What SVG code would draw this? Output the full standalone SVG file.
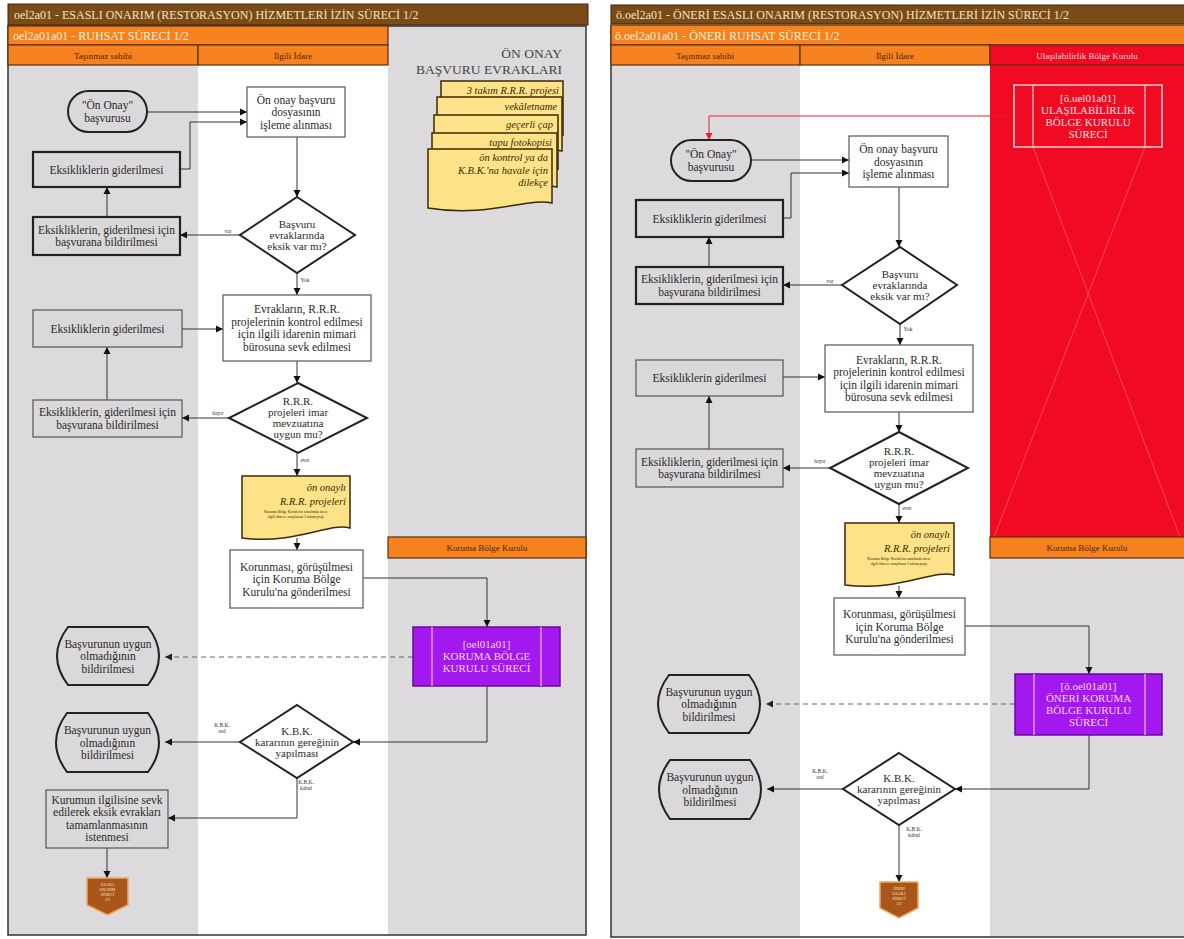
<svg xmlns="http://www.w3.org/2000/svg" width="1184" height="939" viewBox="0 0 1184 939" font-family="'Liberation Serif', 'DejaVu Serif', serif">
<defs>
<marker id="ar" markerUnits="userSpaceOnUse" markerWidth="8" markerHeight="8" refX="7" refY="4" orient="auto"><path d="M0,0.5 L7,4 L0,7.5 Z" fill="#111"/></marker>
<marker id="arR" markerUnits="userSpaceOnUse" markerWidth="8" markerHeight="8" refX="7" refY="4" orient="auto"><path d="M0,0.5 L7,4 L0,7.5 Z" fill="#e8202a"/></marker>
<marker id="arG" markerUnits="userSpaceOnUse" markerWidth="8" markerHeight="8" refX="7" refY="4" orient="auto"><path d="M0,0.5 L7,4 L0,7.5 Z" fill="#222"/></marker>
</defs>
<style>
text, tspan{font-family:'Liberation Serif', 'DejaVu Serif', serif;}
.t{font-size:11.5px;fill:#2a2a2a;text-anchor:middle;}
.td{font-size:11px;fill:#2a2a2a;text-anchor:middle;}
.ttl{font-size:12px;fill:#f3e3c3;}
.sub{font-size:12px;fill:#fff0dc;}
.hd{font-size:9px;fill:#4a2708;text-anchor:middle;}
.lbl{font-size:5.5px;fill:#333;text-anchor:middle;}
.boxw{fill:#fff;stroke:#555;stroke-width:1.2;}
.boxg{fill:#dad8da;stroke:#555;stroke-width:1.2;}
.boxgt{fill:#dad8da;stroke:#222;stroke-width:2.2;}
.dia{fill:#fff;stroke:#222;stroke-width:2;}
.term{fill:#dad8da;stroke:#222;stroke-width:2;}
.doc{fill:#fde28a;stroke:#3a2a00;stroke-width:1.5;}
.dtx{font-size:10.5px;fill:#3a2a00;font-style:italic;text-anchor:end;}
.mag{fill:#a318ee;stroke:#6a0a9a;stroke-width:1.5;}
.magl{stroke:#f4b8ff;stroke-width:1.2;}
.mtx{font-size:11px;fill:#f8d4ff;text-anchor:middle;}
.off{fill:#a8561a;stroke:#f0a860;stroke-width:1.5;}
.otx{font-size:3.8px;fill:#fbe6c8;text-anchor:middle;}
.c{fill:none;stroke:#333;stroke-width:1;marker-end:url(#ar);}
.cd{fill:none;stroke:#666;stroke-width:1.2;stroke-dasharray:5,4;marker-end:url(#arG);}
.orange{fill:#f5821f;stroke:#5a3010;stroke-width:1.2;}
.brown{fill:#7b4b17;stroke:#3a2410;stroke-width:1;}
.lane{fill:#dcdadc;}
</style>

<g id="left-panel">
<rect x="0" y="0" width="1184" height="939" fill="#fff"/>
<rect class="lane" x="8" y="65" width="190" height="870"/>
<rect x="198" y="65" width="190" height="870" fill="#fff"/>
<rect class="lane" x="388" y="26" width="198" height="909"/>
<rect x="8" y="26" width="578" height="909" fill="none" stroke="#333" stroke-width="1.5"/>
<rect class="brown" x="8" y="4" width="580" height="21"/>
<text class="ttl" x="14" y="19">oel2a01 - ESASLI ONARIM (RESTORASYON) HİZMETLERİ İZİN SÜRECİ 1/2</text>
<rect class="orange" x="8" y="26" width="380" height="19"/>
<text class="sub" x="13" y="40">oel2a01a01 - RUHSAT SÜRECİ 1/2</text>
<rect class="orange" x="8" y="45" width="190" height="20"/>
<rect class="orange" x="198" y="45" width="190" height="20"/>
<text class="hd" x="103" y="58.5">Taşınmaz sahibi</text>
<text class="hd" x="293" y="58.5">İlgili İdare</text>
<text x="562" y="58" font-size="13.5" fill="#444" text-anchor="end">ÖN ONAY</text>
<text x="562" y="74" font-size="13.5" fill="#444" text-anchor="end">BAŞVURU EVRAKLARI</text>
<rect class="orange" x="388" y="537" width="198" height="21"/>
<text class="hd" x="487" y="550.5">Koruma Bölge Kurulu</text>
</g>

<g id="right-panel">
<rect class="lane" x="611" y="65" width="189" height="872"/>
<rect x="800" y="65" width="190" height="872" fill="#fff"/>
<rect x="990" y="65" width="194" height="472" fill="#f00a22"/>
<rect class="lane" x="990" y="558" width="194" height="379"/>
<path d="M611,25 V937 H1184" fill="none" stroke="#333" stroke-width="1.5"/>
<rect class="brown" x="611" y="5" width="575" height="19"/>
<text class="ttl" x="616" y="18.5">ö.oel2a01 - ÖNERİ ESASLI ONARIM (RESTORASYON) HİZMETLERİ İZİN SÜRECİ 1/2</text>
<rect class="orange" x="611" y="25" width="575" height="20"/>
<text class="sub" x="615" y="39.5">ö.oel2a01a01 - ÖNERİ RUHSAT SÜRECİ 1/2</text>
<rect class="orange" x="611" y="45" width="189" height="20"/>
<rect class="orange" x="800" y="45" width="190" height="20"/>
<rect x="990" y="45" width="196" height="20" fill="#f00a22" stroke="#5a3010" stroke-width="1.2"/>
<text class="hd" x="705" y="58.5">Taşınmaz sahibi</text>
<text class="hd" x="895" y="58.5">İlgili İdare</text>
<text class="hd" x="1087" y="58.5" style="fill:#ffd8de">Ulaşılabilirlik Bölge Kurulu</text>
<line x1="1033" y1="147" x2="1180" y2="537" stroke="#ff5868" stroke-width="0.8"/>
<line x1="1145" y1="147" x2="994" y2="537" stroke="#ff5868" stroke-width="0.8"/>
<rect class="orange" x="990" y="537" width="196" height="21"/>
<text class="hd" x="1087" y="550.5">Koruma Bölge Kurulu</text>
</g>

<g id="n-evrak">
<path class="doc" d="M441,81 H563 V135 C540,129 500,150 441,143 Z"/>
<path class="doc" d="M437,97 H562 V151 C539,145 499,166 437,159 Z"/>
<path class="doc" d="M434,115 H558 V169 C535,163 495,184 434,177 Z"/>
<path class="doc" d="M432,133 H557 V187 C534,181 494,202 432,195 Z"/>
<path class="doc" d="M428,149 H552 V203 C529,197 488,218 428,208 Z"/>
<text class="dtx" x="559" y="93.5">3 takım R.R.R. projesi</text>
<text class="dtx" x="557" y="110">vekâletname</text>
<text class="dtx" x="553" y="128">geçerli çap</text>
<text class="dtx" x="552" y="146">tapu fotokopisi</text>
<text class="dtx" x="548" y="161">ön kontrol ya da</text>
<text class="dtx" x="548" y="173.5">K.B.K.'na havale için</text>
<text class="dtx" x="548" y="186">dilekçe</text>
</g>

<g id="connectors">
<path class="c" d="M147,112 H247"/>
<path class="c" d="M180,169 H190 V122 H247"/>
<path class="c" d="M297,137 V197"/>
<path class="c" d="M240,235 H180"/>
<path class="c" d="M107,217 V187"/>
<path class="c" d="M297,273 V295"/>
<path class="c" d="M182,329 H223"/>
<path class="c" d="M297,361 V383"/>
<path class="c" d="M229,418 H182"/>
<path class="c" d="M107,400 V347"/>
<path class="c" d="M297,453 V476"/>
<path class="c" d="M297,538 V550"/>
<path class="c" d="M363,578 H487 V627"/>
<path class="cd" d="M413,657 H165"/>
<path class="c" d="M487,686 V742 H353"/>
<path class="c" d="M240,742 H165"/>
<path class="c" d="M297,778 V818 H168"/>
<path class="c" d="M107,848 V878"/>
<text class="lbl" x="228" y="233">var</text>
<text class="lbl" x="305" y="282">Yok</text>
<text class="lbl" x="218" y="415">hayır</text>
<text class="lbl" x="305" y="462">evet</text>
<text class="lbl" x="222" y="727">K.B.K.</text>
<text class="lbl" x="222" y="733">red</text>
<text class="lbl" x="306" y="784">K.B.K.</text>
<text class="lbl" x="306" y="790">kabul</text>

<path fill="none" stroke="#e8202a" stroke-width="1" marker-end="url(#arR)" d="M1014,116 H709 V140"/>
<path class="c" d="M751,160 H849"/>
<path class="c" d="M783,218 H791 V173 H849"/>
<path class="c" d="M899,187 V247"/>
<path class="c" d="M842,285 H783"/>
<path class="c" d="M709,267 V237"/>
<path class="c" d="M900,324 V345"/>
<path class="c" d="M783,377 H825"/>
<path class="c" d="M899,412 V432"/>
<path class="c" d="M830,468 H783"/>
<path class="c" d="M709,449 V396"/>
<path class="c" d="M899,504 V523"/>
<path class="c" d="M899,586 V598"/>
<path class="c" d="M965,626 H1089 V674"/>
<path class="cd" d="M1015,704 H766"/>
<path class="c" d="M1089,735 V789 H955"/>
<path class="c" d="M843,789 H767"/>
<path class="c" d="M899,825 V882"/>
<text class="lbl" x="830" y="283">var</text>
<text class="lbl" x="908" y="331">Yok</text>
<text class="lbl" x="820" y="463">hayır</text>
<text class="lbl" x="907" y="510">evet</text>
<text class="lbl" x="820" y="773">K.B.K.</text>
<text class="lbl" x="820" y="779">red</text>
<text class="lbl" x="914" y="831">K.B.K.</text>
<text class="lbl" x="914" y="837">kabul</text>
</g>

<g id="n-onay"><rect class="term" x="68" y="91" width="79" height="41" rx="20.5"/><text class="t"><tspan x="107.5" y="109.25">"Ön Onay"</tspan><tspan x="107.5" y="121.75">başvurusu</tspan></text></g>
<g id="n-isleme"><rect class="boxw" x="247" y="87" width="98" height="50"/><text class="t"><tspan x="296" y="103.5">Ön onay başvuru</tspan><tspan x="296" y="116">dosyasının</tspan><tspan x="296" y="128.5">işleme alınması</tspan></text></g>
<g id="n-gid1"><rect class="boxgt" x="33" y="152" width="147" height="35"/><text class="t" x="106.5" y="173.5">Eksikliklerin giderilmesi</text></g>
<g id="n-d1"><polygon class="dia" points="297,197 355,235 297,273 240,235"/><text class="td"><tspan x="297" y="227.8">Başvuru</tspan><tspan x="297" y="238.8">evraklarında</tspan><tspan x="297" y="249.8">eksik var mı?</tspan></text></g>
<g id="n-bild1"><rect class="boxgt" x="33" y="217" width="147" height="38"/><text class="t"><tspan x="106.5" y="233.75">Eksikliklerin, giderilmesi için</tspan><tspan x="106.5" y="246.25">başvurana bildirilmesi</tspan></text></g>
<g id="n-sevk"><rect class="boxw" x="223" y="295" width="148" height="66"/><text class="t"><tspan x="297" y="313.25">Evrakların, R.R.R.</tspan><tspan x="297" y="325.75">projelerinin kontrol edilmesi</tspan><tspan x="297" y="338.25">için ilgili idarenin mimari</tspan><tspan x="297" y="350.75">bürosuna sevk edilmesi</tspan></text></g>
<g id="n-gid2"><rect class="boxg" x="33" y="310" width="149" height="37"/><text class="t" x="107.5" y="332.5">Eksikliklerin giderilmesi</text></g>
<g id="n-d2"><polygon class="dia" points="298,383 367,418 298,453 229,418"/><text class="td"><tspan x="298" y="405.3">R.R.R.</tspan><tspan x="298" y="416.3">projeleri imar</tspan><tspan x="298" y="427.3">mevzuatına</tspan><tspan x="298" y="438.3">uygun mu?</tspan></text></g>
<g id="n-bild2"><rect class="boxg" x="33" y="400" width="149" height="37"/><text class="t"><tspan x="107.5" y="416.25">Eksikliklerin, giderilmesi için</tspan><tspan x="107.5" y="428.75">başvurana bildirilmesi</tspan></text></g>
<g id="n-onayli"><path class="doc" d="M242,476 H350 V528 C330,522 295,545 242,538 Z"/><text class="dtx" x="346" y="491">ön onaylı</text><text class="dtx" x="346" y="505">R.R.R. projeleri</text><text x="296" y="513" font-size="3.8" fill="#3a2a00" text-anchor="middle">Koruma Bölge Kurulu'na sunulmak üzere</text><text x="296" y="518" font-size="3.8" fill="#3a2a00" text-anchor="middle">ilgili idarece onaylanan 2 takım proje</text></g>
<g id="n-korunma"><rect class="boxw" x="230" y="550" width="133" height="58"/><text class="t"><tspan x="296.5" y="570.5">Korunması, görüşülmesi</tspan><tspan x="296.5" y="583">için Koruma Bölge</tspan><tspan x="296.5" y="595.5">Kurulu'na gönderilmesi</tspan></text></g>
<g id="n-kbk"><rect class="mag" x="413" y="627" width="147" height="59"/><line class="magl" x1="432" y1="627" x2="432" y2="686"/><line class="magl" x1="541" y1="627" x2="541" y2="686"/><text class="mtx"><tspan x="486.5" y="648.3">[oel01a01]</tspan><tspan x="486.5" y="660.3">KORUMA BÖLGE</tspan><tspan x="486.5" y="672.3">KURULU SÜRECİ</tspan></text></g>
<g id="n-uygun1"><path class="term" d="M68,627 H148 Q170,656 148,685 H68 Q46,656 68,627 Z"/><text class="t"><tspan x="108" y="647.5">Başvurunun uygun</tspan><tspan x="108" y="660">olmadığının</tspan><tspan x="108" y="672.5">bildirilmesi</tspan></text></g>
<g id="n-uygun2"><path class="term" d="M67,713 H148 Q170,742.5 148,772 H67 Q45,742.5 67,713 Z"/><text class="t"><tspan x="107.5" y="734">Başvurunun uygun</tspan><tspan x="107.5" y="746.5">olmadığının</tspan><tspan x="107.5" y="759">bildirilmesi</tspan></text></g>
<g id="n-d3"><polygon class="dia" points="297,705 353,742 297,778 240,742"/><text class="td"><tspan x="297" y="734.8">K.B.K.</tspan><tspan x="297" y="745.8">kararının gereğinin</tspan><tspan x="297" y="756.8">yapılması</tspan></text></g>
<g id="n-eksik"><rect class="boxg" x="46" y="790" width="122" height="58"/><text class="t"><tspan x="107" y="803.5">Kurumun ilgilisine sevk</tspan><tspan x="107" y="816">edilerek eksik evrakları</tspan><tspan x="107" y="828.5">tamamlanmasının</tspan><tspan x="107" y="841">istenmesi</tspan></text></g>
<g id="n-off1"><path class="off" d="M87,878 H128 V905 L107.5,915 L87,905 Z"/><text class="otx"><tspan x="107.5" y="886">ESASLI</tspan><tspan x="107.5" y="891">ONARIM</tspan><tspan x="107.5" y="896">SÜRECİ</tspan><tspan x="107.5" y="901">2/2</tspan></text></g>

<g id="r-ulas"><rect x="1014" y="85" width="148" height="62" fill="none" stroke="#ffd0d8" stroke-width="1.5"/><line x1="1033" y1="85" x2="1033" y2="147" stroke="#ffd0d8" stroke-width="1.2"/><line x1="1145" y1="85" x2="1145" y2="147" stroke="#ffd0d8" stroke-width="1.2"/><text class="mtx" style="fill:#ffe0e6"><tspan x="1088" y="101.8">[ö.uel01a01]</tspan><tspan x="1088" y="113.8">ULAŞILABİLİRLİK</tspan><tspan x="1088" y="125.8">BÖLGE KURULU</tspan><tspan x="1088" y="137.8">SÜRECİ</tspan></text></g>
<g id="r-onay"><rect class="term" x="671" y="140" width="80" height="41" rx="20.5"/><text class="t"><tspan x="711" y="158.25">"Ön Onay"</tspan><tspan x="711" y="170.75">başvurusu</tspan></text></g>
<g id="r-isleme"><rect class="boxw" x="849" y="136" width="99" height="51"/><text class="t"><tspan x="898.5" y="153">Ön onay başvuru</tspan><tspan x="898.5" y="165.5">dosyasının</tspan><tspan x="898.5" y="178">işleme alınması</tspan></text></g>
<g id="r-gid1"><rect class="boxgt" x="636" y="200" width="147" height="37"/><text class="t" x="709.5" y="222.5">Eksikliklerin giderilmesi</text></g>
<g id="r-d1"><polygon class="dia" points="900,247 957,285 900,324 842,285"/><text class="td"><tspan x="900" y="277.8">Başvuru</tspan><tspan x="900" y="288.8">evraklarında</tspan><tspan x="900" y="299.8">eksik var mı?</tspan></text></g>
<g id="r-bild1"><rect class="boxgt" x="636" y="267" width="147" height="37"/><text class="t"><tspan x="709.5" y="283.25">Eksikliklerin, giderilmesi için</tspan><tspan x="709.5" y="295.75">başvurana bildirilmesi</tspan></text></g>
<g id="r-sevk"><rect class="boxw" x="825" y="345" width="148" height="67"/><text class="t"><tspan x="899" y="363.75">Evrakların, R.R.R.</tspan><tspan x="899" y="376.25">projelerinin kontrol edilmesi</tspan><tspan x="899" y="388.75">için ilgili idarenin mimari</tspan><tspan x="899" y="401.25">bürosuna sevk edilmesi</tspan></text></g>
<g id="r-gid2"><rect class="boxg" x="636" y="360" width="147" height="36"/><text class="t" x="709.5" y="382">Eksikliklerin giderilmesi</text></g>
<g id="r-d2"><polygon class="dia" points="899,432 968,468 899,504 830,468"/><text class="td"><tspan x="899" y="455.3">R.R.R.</tspan><tspan x="899" y="466.3">projeleri imar</tspan><tspan x="899" y="477.3">mevzuatına</tspan><tspan x="899" y="488.3">uygun mu?</tspan></text></g>
<g id="r-bild2"><rect class="boxg" x="636" y="449" width="147" height="38"/><text class="t"><tspan x="709.5" y="465.75">Eksikliklerin, giderilmesi için</tspan><tspan x="709.5" y="478.25">başvurana bildirilmesi</tspan></text></g>
<g id="r-onayli"><path class="doc" d="M845,523 H954 V575 C934,569 898,592 845,585 Z"/><text class="dtx" x="950" y="538">ön onaylı</text><text class="dtx" x="950" y="552">R.R.R. projeleri</text><text x="899" y="560" font-size="3.8" fill="#3a2a00" text-anchor="middle">Koruma Bölge Kurulu'na sunulmak üzere</text><text x="899" y="565" font-size="3.8" fill="#3a2a00" text-anchor="middle">ilgili idarece onaylanan 2 takım proje</text></g>
<g id="r-korunma"><rect class="boxw" x="834" y="598" width="131" height="57"/><text class="t"><tspan x="899.5" y="618">Korunması, görüşülmesi</tspan><tspan x="899.5" y="630.5">için Koruma Bölge</tspan><tspan x="899.5" y="643">Kurulu'na gönderilmesi</tspan></text></g>
<g id="r-kbk"><rect class="mag" x="1015" y="674" width="147" height="61"/><line class="magl" x1="1034" y1="674" x2="1034" y2="735"/><line class="magl" x1="1145" y1="674" x2="1145" y2="735"/><text class="mtx"><tspan x="1088.5" y="690.3">[ö.oel01a01]</tspan><tspan x="1088.5" y="702.3">ÖNERİ KORUMA</tspan><tspan x="1088.5" y="714.3">BÖLGE KURULU</tspan><tspan x="1088.5" y="726.3">SÜRECİ</tspan></text></g>
<g id="r-uygun1"><path class="term" d="M669,675 H749 Q771,704 749,733 H669 Q647,704 669,675 Z"/><text class="t"><tspan x="709" y="695.5">Başvurunun uygun</tspan><tspan x="709" y="708">olmadığının</tspan><tspan x="709" y="720.5">bildirilmesi</tspan></text></g>
<g id="r-uygun2"><path class="term" d="M670,760 H750 Q772,789.5 750,819 H670 Q648,789.5 670,760 Z"/><text class="t"><tspan x="710" y="781">Başvurunun uygun</tspan><tspan x="710" y="793.5">olmadığının</tspan><tspan x="710" y="806">bildirilmesi</tspan></text></g>
<g id="r-d3"><polygon class="dia" points="899,753 955,789 899,825 843,789"/><text class="td"><tspan x="899" y="781.8">K.B.K.</tspan><tspan x="899" y="792.8">kararının gereğinin</tspan><tspan x="899" y="803.8">yapılması</tspan></text></g>
<g id="r-off"><path class="off" d="M880,882 H918 V908 L899,918 L880,908 Z"/><text class="otx"><tspan x="899" y="890">ÖNERİ</tspan><tspan x="899" y="895">ESASLI</tspan><tspan x="899" y="900">SÜRECİ</tspan><tspan x="899" y="905">2/2</tspan></text></g>
</svg>
